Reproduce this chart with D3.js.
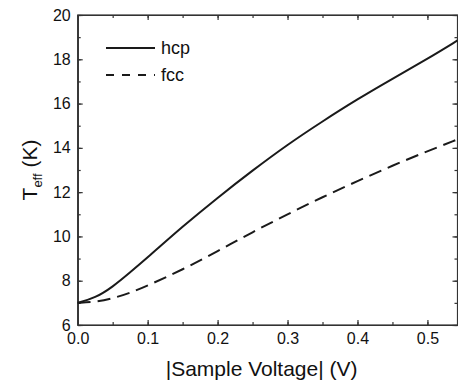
<!DOCTYPE html>
<html>
<head>
<meta charset="utf-8">
<script src="https://cdn.jsdelivr.net/npm/d3@7"></script>
<style>
  body { margin: 0; background: #fff; }
  text { font-family: "Liberation Sans", Arial, sans-serif; fill: #111; }
</style>
</head>
<body>
<div id="chart"></div>
<script>
// data
const voltage = [0, 0.025, 0.05, 0.075, 0.1, 0.15, 0.2, 0.25, 0.3, 0.35, 0.4, 0.45, 0.5, 0.543];
const hcp = [7.0, 7.22, 7.72, 8.38, 9.05, 10.45, 11.75, 12.98, 14.15, 15.2, 16.2, 17.12, 18.02, 18.85];
const fcc = [7.0, 7.04, 7.2, 7.45, 7.78, 8.5, 9.33, 10.2, 11.0, 11.78, 12.5, 13.2, 13.85, 14.38];
const xTicks = [0, 0.1, 0.2, 0.3, 0.4, 0.5];
const yTicks = [6, 8, 10, 12, 14, 16, 18, 20];
const seriesNames = ["hcp", "fcc"];

const W = 458, H = 384;
const margin = {top: 15, right: 0.5, bottom: 59, left: 77.7};

const svg = d3.select("#chart")
  .append("svg")
    .attr("width", W)
    .attr("height", H);

const x = d3.scaleLinear()
  .domain([0, 0.543])
  .range([margin.left, W - margin.right]);
const y = d3.scaleLinear()
  .domain([6, 20])
  .range([H - margin.bottom, margin.top]);

const minorX = d3.range(0, 0.5451, 0.05);
const minorY = d3.range(6, 20.01, 1);

// frame with inward ticks on all four sides
function tickAxis(axisFn, scale, ticks, size, fmt, transform, pad) {
  return svg.append("g")
    .attr("transform", transform)
    .call(axisFn(scale).tickValues(ticks).tickSizeInner(size).tickSizeOuter(0)
      .tickFormat(fmt).tickPadding(pad || 6));
}
tickAxis(d3.axisBottom, x, minorX, -3, "", `translate(0,${y(6)})`);
tickAxis(d3.axisBottom, x, xTicks, -5, d3.format(".1f"), `translate(0,${y(6)})`, 8);
tickAxis(d3.axisTop, x, minorX, -3, "", `translate(0,${y(20)})`);
tickAxis(d3.axisTop, x, xTicks, -5, "", `translate(0,${y(20)})`);
tickAxis(d3.axisLeft, y, minorY, -3, "", `translate(${x(0)},0)`);
tickAxis(d3.axisLeft, y, yTicks, -5, d3.format("d"), `translate(${x(0)},0)`, 7);
tickAxis(d3.axisRight, y, minorY, -3, "", `translate(${x(0.543)},0)`);
tickAxis(d3.axisRight, y, yTicks, -5, "", `translate(${x(0.543)},0)`);

svg.selectAll(".domain").attr("stroke", "#333").attr("stroke-width", 1.2);
svg.selectAll(".tick line").attr("stroke", "#333").attr("stroke-width", 1.2);
svg.selectAll(".tick text")
  .attr("font-size", 16)
  .attr("font-family", "Liberation Sans, Arial, sans-serif")
  .attr("fill", "#111");

// frame edges
svg.append("rect")
  .attr("x", x(0)).attr("y", y(20))
  .attr("width", x(0.543) - x(0)).attr("height", y(6) - y(20))
  .attr("fill", "none").attr("stroke", "#333").attr("stroke-width", 1.2);

// curves
const line = d3.line()
  .x((d, i) => x(voltage[i]))
  .y(d => y(d))
  .curve(d3.curveBasis);

svg.append("path")
  .datum(hcp)
  .attr("d", line)
  .attr("fill", "none")
  .attr("stroke", "#1a1a1a")
  .attr("stroke-width", 2);

svg.append("path")
  .datum(fcc)
  .attr("d", line)
  .attr("fill", "none")
  .attr("stroke", "#1a1a1a")
  .attr("stroke-width", 2)
  .attr("stroke-dasharray", "13,7");

// legend
const legend = svg.append("g");
seriesNames.forEach((name, i) => {
  const ly = 48 + i * 27;
  legend.append("line")
    .attr("x1", 106).attr("x2", 155)
    .attr("y1", ly).attr("y2", ly)
    .attr("stroke", "#1a1a1a")
    .attr("stroke-width", 2)
    .attr("stroke-dasharray", i === 0 ? null : "8,8");
  legend.append("text")
    .attr("x", 161)
    .attr("y", ly + 6)
    .attr("font-size", 18)
    .text(name);
});

// axis titles
svg.append("text")
  .attr("x", (x(0) + x(0.543)) / 2 - 6)
  .attr("y", 376)
  .attr("text-anchor", "middle")
  .attr("font-size", 21)
  .text("|Sample Voltage| (V)");

const yt = svg.append("text")
  .attr("transform", `translate(37,${(y(6) + y(20)) / 2}) rotate(-90)`)
  .attr("text-anchor", "middle")
  .attr("font-size", 21);
yt.append("tspan").text("T");
yt.append("tspan").attr("font-size", 13).attr("dy", 5).text("eff");
yt.append("tspan").attr("dy", -5).text(" (K)");
</script>
</body>
</html>
